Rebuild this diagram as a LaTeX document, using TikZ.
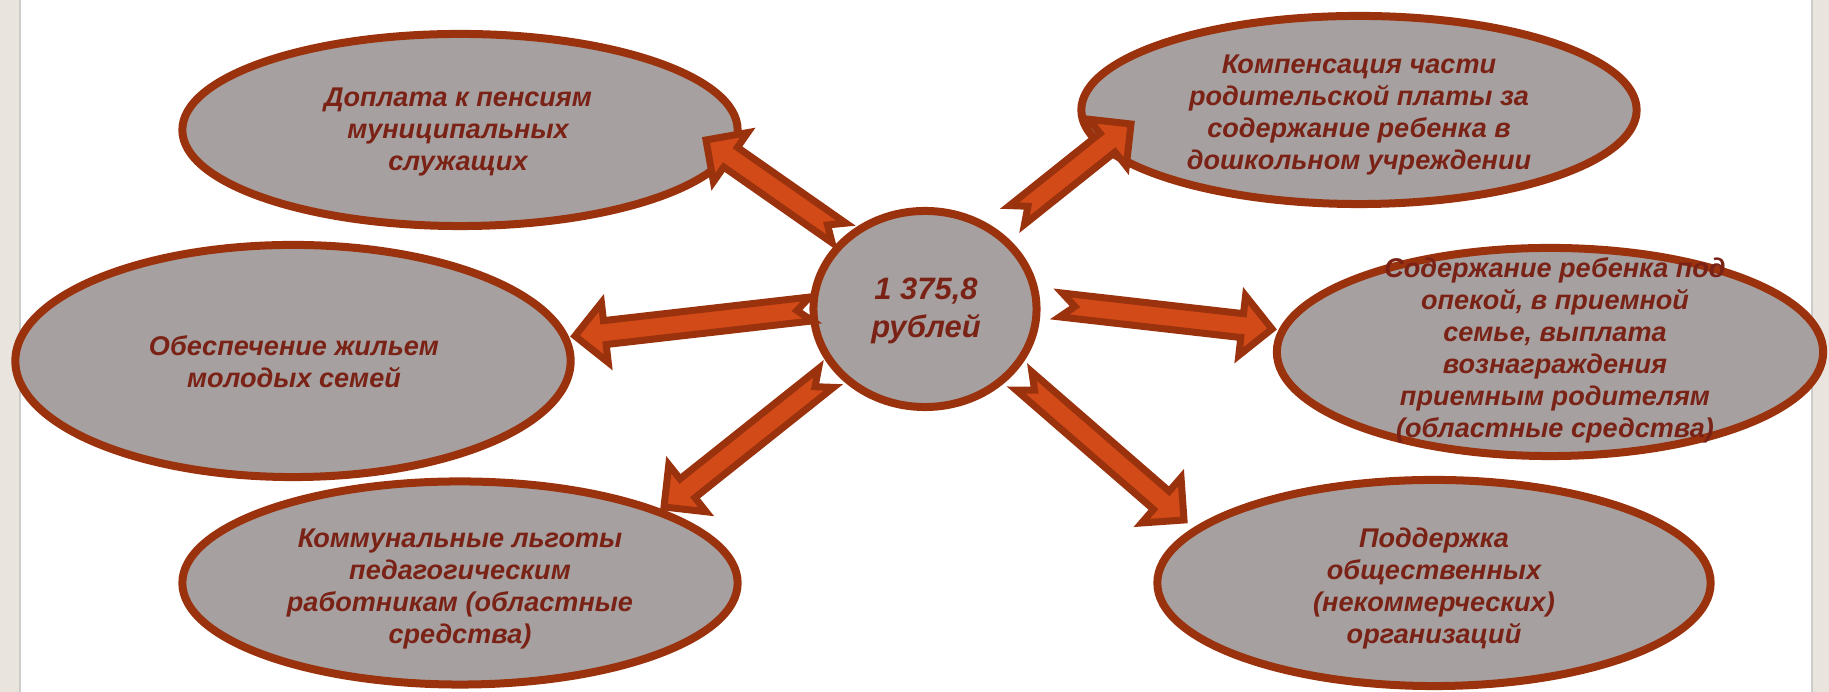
\documentclass[tikz,border=0pt]{standalone}
\usepackage{fontspec}
\setmainfont{Liberation Sans}
\usetikzlibrary{shapes.geometric,calc}
\definecolor{rimred}{RGB}{155,50,14}
\definecolor{bubblegray}{RGB}{166,161,160}
\definecolor{inkred}{RGB}{122,34,22}
\definecolor{arroworange}{RGB}{210,74,24}
\definecolor{sidebeige}{RGB}{233,229,222}

% notched block arrow from #1 (tail) to #2 (tip)
\newcommand{\notcharrow}[2]{%
  \coordinate (nb) at ($(#2)!0.30cm!(#1)$);
  \filldraw[fat arrow] ($(#1)!0.12cm!90:(#2)$) -- ($(#1)!0.14cm!(#2)$)
    -- ($(#1)!0.12cm!-90:(#2)$) -- ($(nb)!0.12cm!-90:(#2)$)
    -- ($(nb)!0.30cm!-90:(#2)$) -- (#2) -- ($(nb)!0.30cm!90:(#2)$)
    -- ($(nb)!0.12cm!90:(#2)$) -- cycle;}

\begin{document}
\begin{tikzpicture}[
  x=0.01cm, y=-0.01cm,
  bubble/.style={draw=rimred, line width=0.08cm, fill=bubblegray,
                 ellipse, inner sep=0pt, minimum width=5.55cm},
  bubble text/.style={align=center, text=inkred,
                 font={\fontsize{7.7pt}{9.1pt}\selectfont\bfseries\itshape}},
  fat arrow/.style={draw=rimred, fill=arroworange, line width=0.07cm,
                 line join=miter},
]
\useasboundingbox (0,0) rectangle (1829,692);

% === Side strips ===
\fill[sidebeige] (0,0) rectangle (20,692);
\draw[gray!40, line width=0.02cm] (20,0) -- (20,692);
\fill[sidebeige] (1812,0) rectangle (1829,692);
\draw[gray!40, line width=0.02cm] (1812,0) -- (1812,692);

% === Left bubbles ===
\node[bubble, minimum height=1.92cm] (pension) at (460,130) {};
\node[bubble, minimum height=2.32cm] (housing) at (293,361) {};
\node[bubble, minimum height=2.03cm] (utility) at (460,583) {};

% === Right bubbles ===
\node[bubble, minimum height=1.88cm] (kinder) at (1359,110) {};
\node[bubble, minimum height=2.08cm, minimum width=5.46cm] (foster) at (1550,352) {};
\node[bubble, minimum height=2.06cm, minimum width=5.53cm] (ngo) at (1434,583) {};

% === Centre ===
\node[bubble, minimum width=2.23cm, minimum height=1.96cm] (total) at (925,309) {};

% === Texts ===
\node[bubble text] (pension text) at (458,132)
  {Доплата к пенсиям\\муниципальных\\служащих};
\node[bubble text] (housing text) at (294,362)
  {Обеспечение жильем\\молодых семей};
\node[bubble text] (utility text) at (460,589)
  {Коммунальные льготы\\педагогическим\\работникам (областные\\средства)};
\node[bubble text] (kinder text) at (1359,115)
  {Компенсация части\\родительской платы за\\содержание ребенка в\\дошкольном учреждении};
\node[bubble text] (foster text) at (1555,350)
  {Содержание ребенка под\\опекой, в приемной\\семье, выплата\\вознаграждения\\приемным родителям\\(областные средства)};
\node[bubble text] (ngo text) at (1434,589)
  {Поддержка\\общественных\\(некоммерческих)\\организаций};
\node[bubble text, font={\fontsize{8.8pt}{10.8pt}\selectfont\bfseries\itshape}]
  (total text) at (926,311) {1 375,8\\рублей};

% === Arrows ===
\coordinate (tl1) at (839,233);  \coordinate (tp1) at (706,140);
\coordinate (tl2) at (811,309);  \coordinate (tp2) at (575,336);
\coordinate (tl3) at (826,378);  \coordinate (tp3) at (664,507);
\coordinate (tl4) at (1017,215); \coordinate (tp4) at (1131,124);
\coordinate (tl5) at (1061,305); \coordinate (tp5) at (1272,329);
\coordinate (tl6) at (1024,381); \coordinate (tp6) at (1184,520);

\foreach \from/\to in {tl1/tp1, tl2/tp2, tl3/tp3, tl4/tp4, tl5/tp5, tl6/tp6}
  \notcharrow{\from}{\to};

\end{tikzpicture}
\end{document}
